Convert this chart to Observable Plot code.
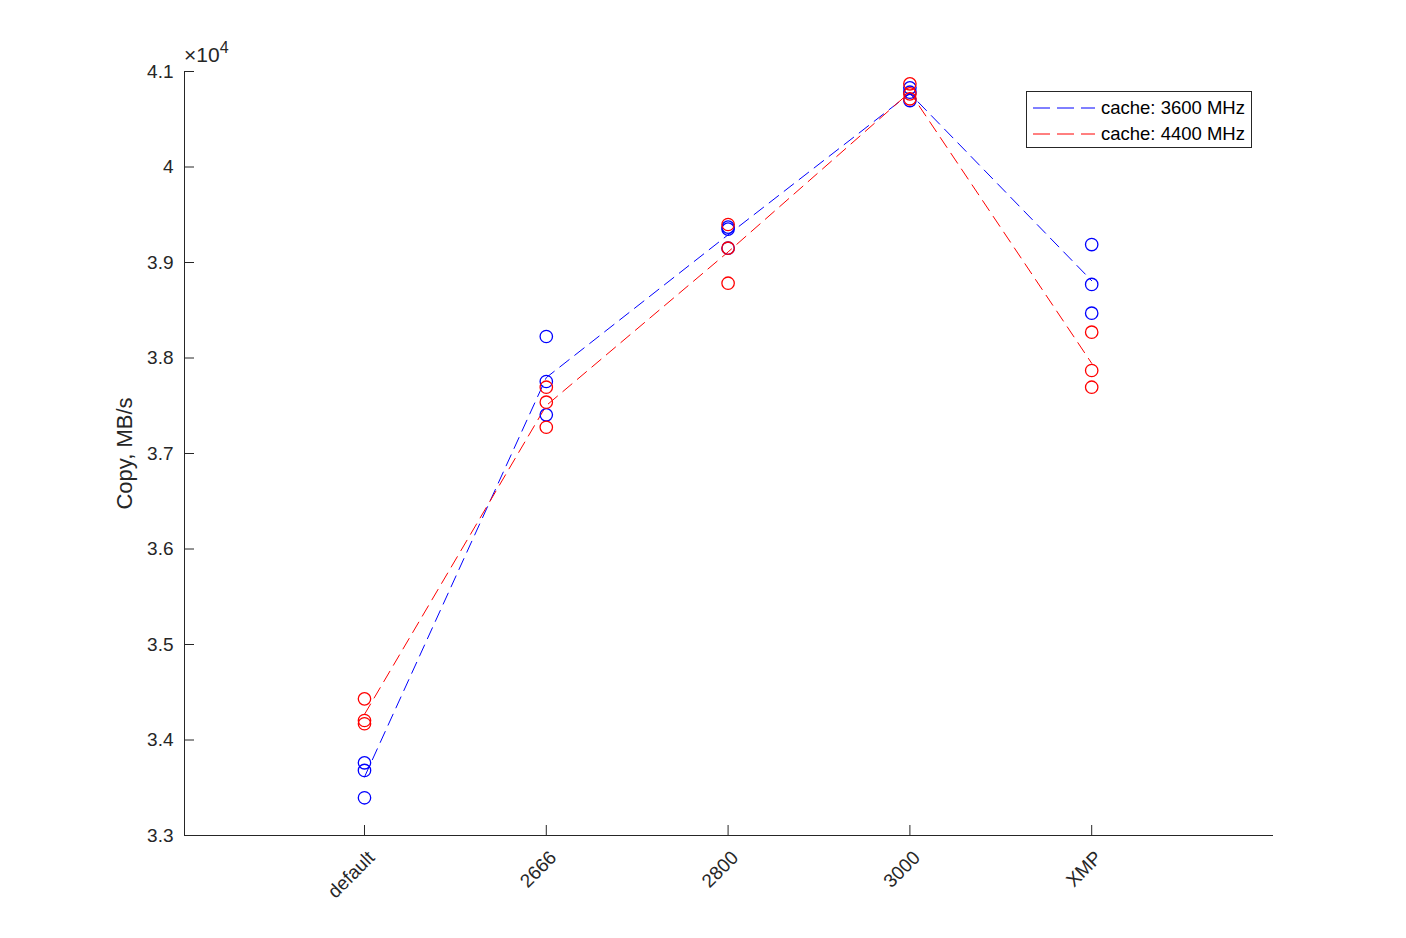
<!DOCTYPE html>
<html>
<head>
<meta charset="utf-8">
<script src="https://cdn.jsdelivr.net/npm/d3@7"></script>
<script src="https://cdn.jsdelivr.net/npm/@observablehq/plot@0.6"></script>
<style>
  html, body { margin: 0; padding: 0; background: #fff; }
  #wrap { position: relative; width: 1406px; height: 938px; font-family: "Liberation Sans", Arial, sans-serif; color: #262626; }
  #exp { position: absolute; left: 184px; top: 40px; font-size: 21px; color: #262626; }
  #exp sup { font-size: 16px; position: relative; top: -1px; }
  #legend { position: absolute; left: 1026px; top: 91px; width: 224px; height: 55px; border: 1px solid #262626; background: #fff; font-size: 18.5px; color: #000; }
  .row { position: absolute; left: 6px; height: 22px; display: flex; align-items: center; white-space: nowrap; }
  .row svg { margin-right: 6px; }
</style>
</head>
<body>
<div id="wrap"></div>
<script>
const categories = ["default", "2666", "2800", "3000", "XMP"];
const seriesNames = ["cache: 3600 MHz", "cache: 4400 MHz"];
const seriesColors = ["#0000ff", "#ff0000"];
const copy3600 = [
  [33761, 33681, 33395],
  [38225, 37754, 37405],
  [39370, 39350, 39150],
  [40829, 40783, 40696],
  [39188, 38770, 38469]
];
const copy4400 = [
  [34431, 34204, 34170],
  [37694, 37537, 37275],
  [39398, 39150, 38783],
  [40871, 40766, 40714],
  [38270, 37869, 37694]
];
const yTicks = [33000, 34000, 35000, 36000, 37000, 38000, 39000, 40000, 41000];

const points = [];
[copy3600, copy4400].forEach((s, si) => {
  s.forEach((vals, ci) => vals.forEach(v => points.push({xi: ci + 1, value: v, series: seriesNames[si]})));
});

const W = 1406, H = 938, mL = 184, mR = 133, mT = 71, mB = 103;
const fw = W - mL - mR, fh = H - mT - mB;
const axisColor = "#262626";
const xDomain = [0.01, categories.length + 1];
const yDomain = [yTicks[0], yTicks[yTicks.length - 1]];

const chart = Plot.plot({
  width: W, height: H,
  marginLeft: mL, marginRight: mR, marginTop: mT, marginBottom: mB,
  style: {fontFamily: "Liberation Sans, Arial, sans-serif", fontSize: "19px", color: axisColor, background: "#fff"},
  x: {type: "linear", domain: xDomain},
  y: {domain: yDomain},
  color: {domain: seriesNames, range: seriesColors},
  marks: [
    Plot.ruleY([yDomain[0]], {stroke: axisColor, strokeWidth: 1}),
    Plot.ruleX([xDomain[0]], {stroke: axisColor, strokeWidth: 1}),
    Plot.tickX(categories.map((c, i) => i + 1), {x: d => d, stroke: axisColor, insetTop: fh - 10}),
    Plot.tickY(yTicks, {y: d => d, stroke: axisColor, insetRight: fw - 10}),
    Plot.axisX({ticks: categories.map((c, i) => i + 1), tickFormat: i => categories[i - 1], tickSize: 0, tickRotate: -45, tickPadding: 19, dx: 7, label: null, fill: axisColor}),
    Plot.axisY({ticks: yTicks, tickFormat: d => String(+(d / 1e4).toFixed(1)), tickSize: 0, tickPadding: 11, label: null, fill: axisColor}),
    Plot.text(["Copy, MB/s"], {frameAnchor: "left", textAnchor: "middle", dx: -60, rotate: -90, fontSize: 22, fill: axisColor, text: d => d}),
    Plot.lineY(points, Plot.groupX({y: "mean"}, {x: "xi", y: "value", stroke: "series", strokeWidth: 1, strokeDasharray: "12,7"})),
    Plot.dot(points, {x: "xi", y: "value", stroke: "series", r: 6.2, strokeWidth: 1.3})
  ]
});

const wrap = document.getElementById("wrap");
wrap.appendChild(chart);

const exp = document.createElement("div");
exp.id = "exp";
exp.innerHTML = "×10<sup>4</sup>";
wrap.appendChild(exp);

const leg = document.createElement("div");
leg.id = "legend";
seriesNames.forEach((name, i) => {
  const row = document.createElement("div");
  row.className = "row";
  row.style.top = (5 + i * 26) + "px";
  row.innerHTML = `<svg width="62" height="4"><line x1="0" y1="2" x2="62" y2="2" stroke="${seriesColors[i]}" stroke-width="1" stroke-dasharray="17,7"/></svg><span>${name}</span>`;
  leg.appendChild(row);
});
wrap.appendChild(leg);
</script>
</body>
</html>
